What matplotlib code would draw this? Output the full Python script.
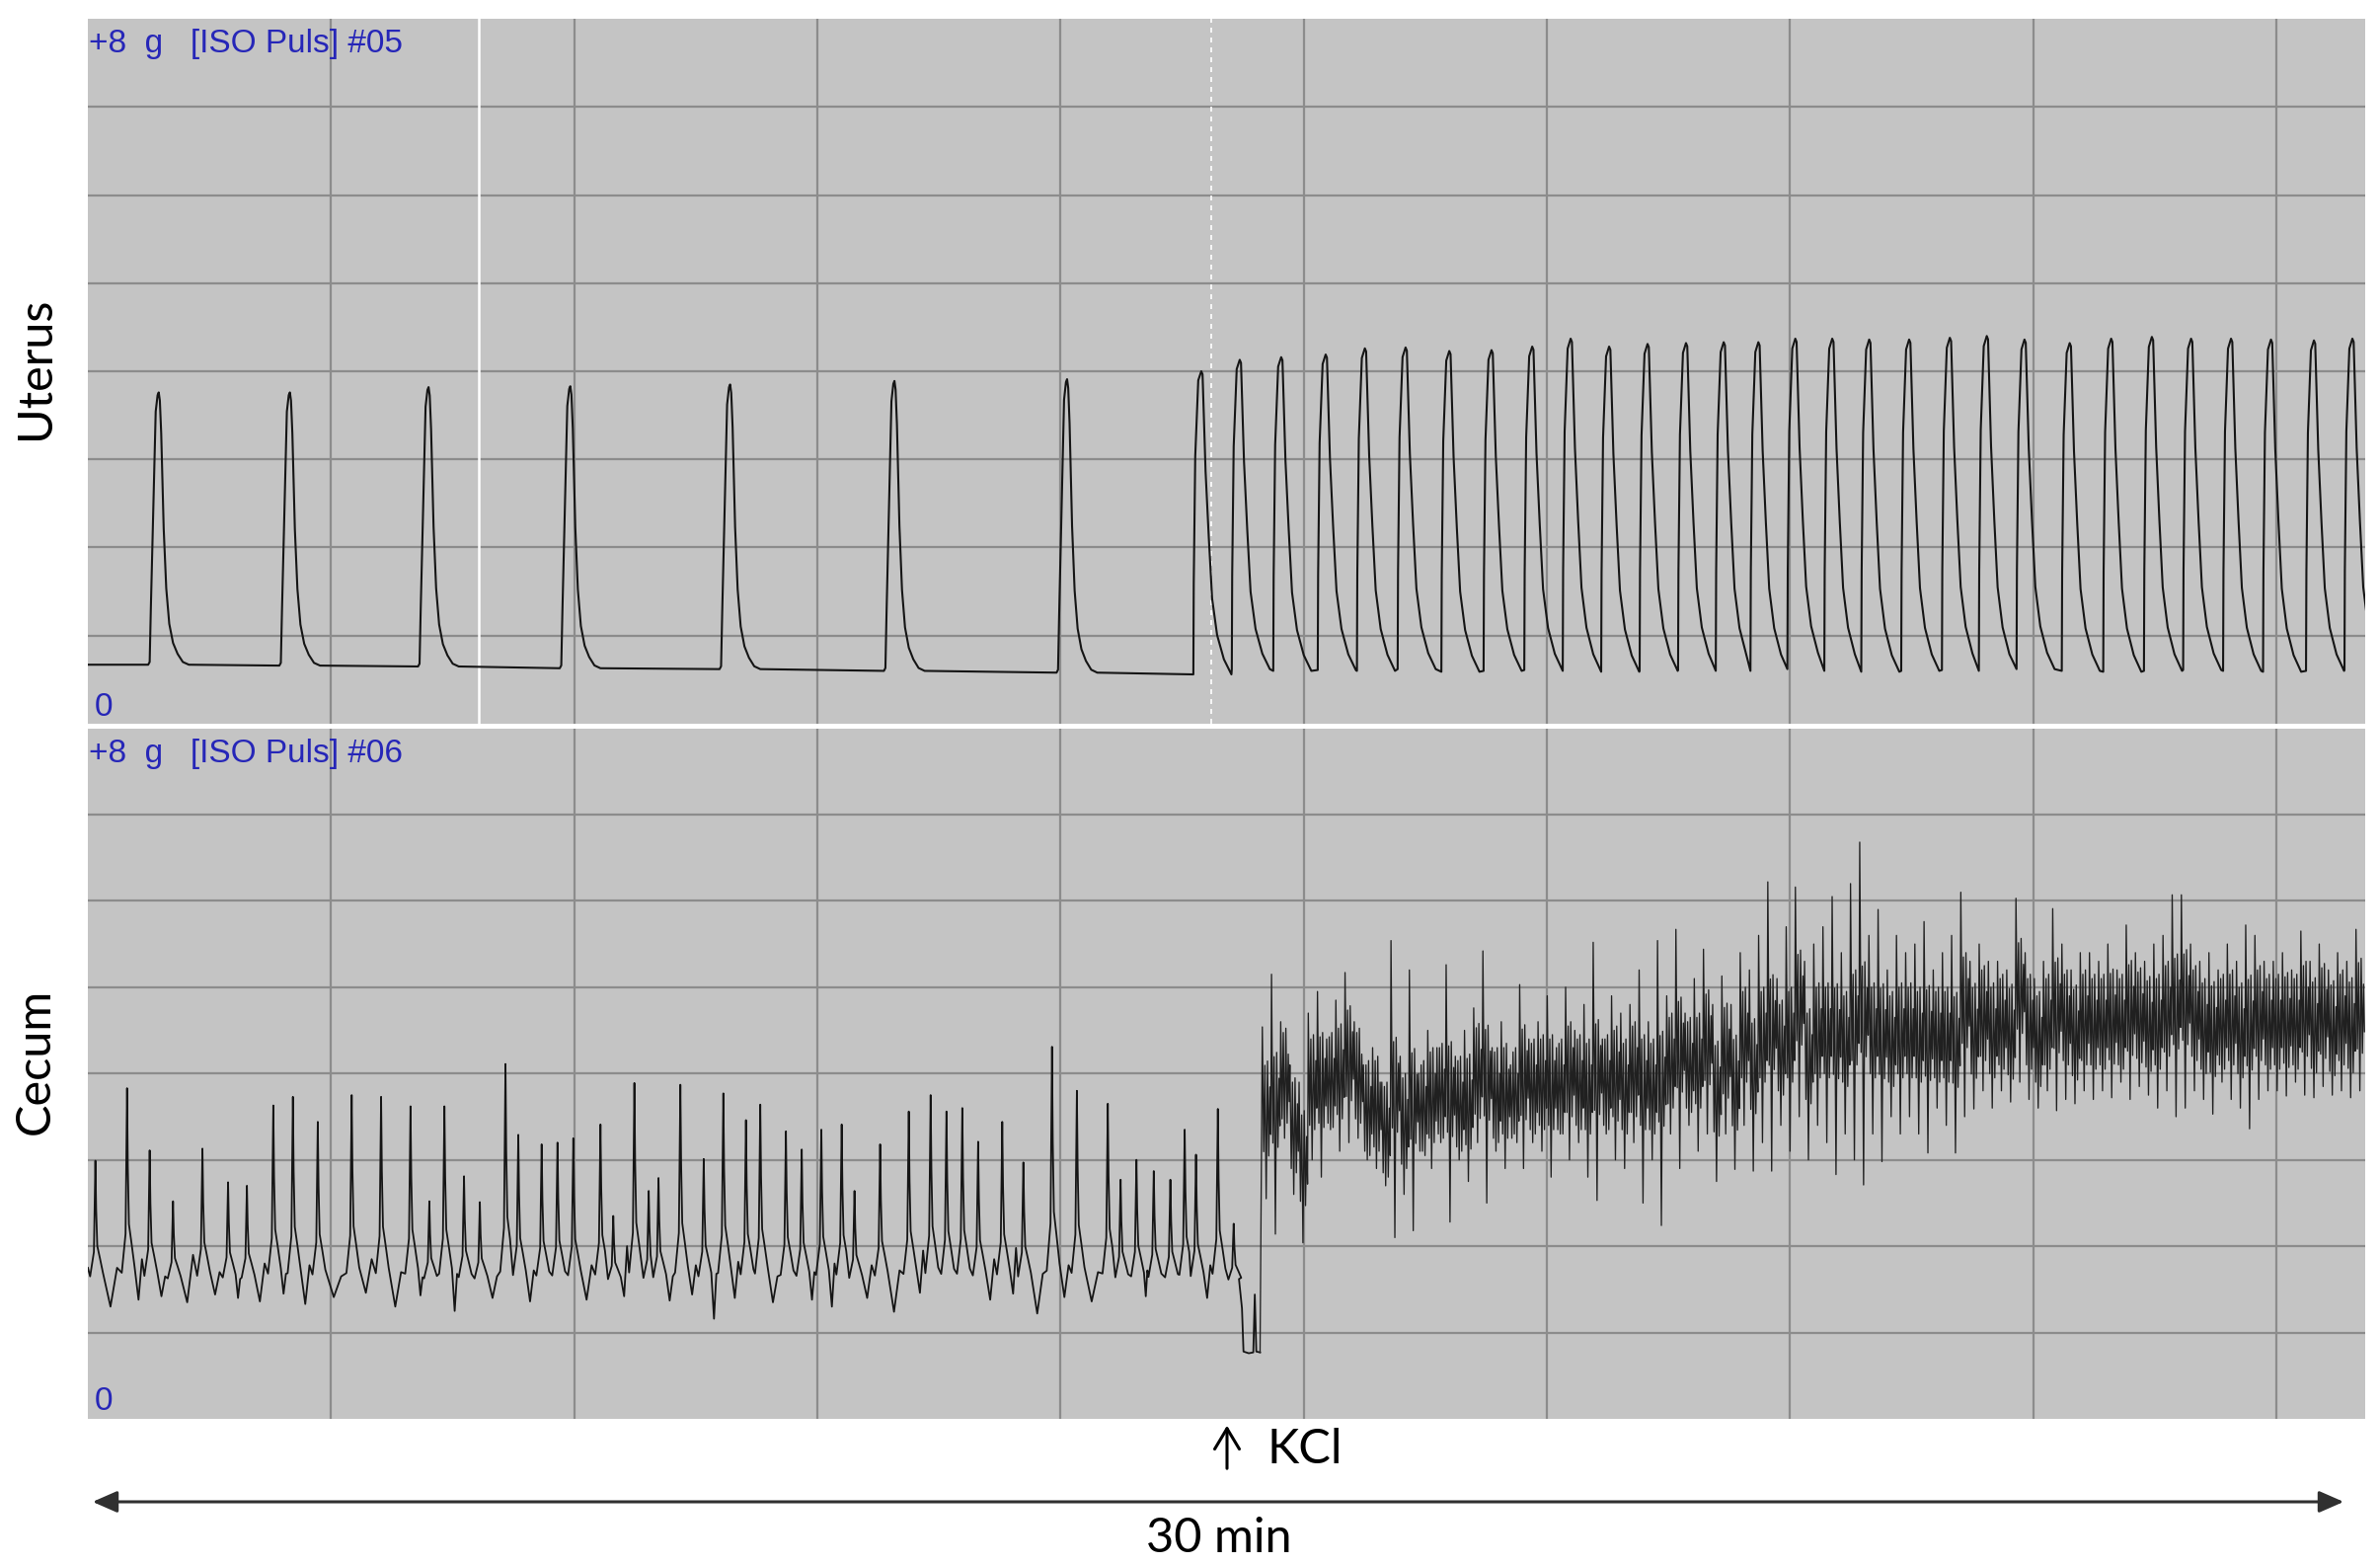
#!/usr/bin/env python3
# Registro isometrico de utero y ciego, respuesta a KCl (30 min).
# Uso: python plot.py  -> out.png

import numpy as np
import matplotlib
matplotlib.use("Agg")
import matplotlib.pyplot as plt
from matplotlib.patches import FancyArrowPatch

ANCHO, ALTO = 2411, 1585
T_MAX       = 30.21     # min visibles en el registro
PASO_REJ    = 3.226     # min entre lineas verticales de la rejilla

# ---------------- Utero (t en min, fuerza en g) ----------------
UT_LENTO_T    = [0.94, 2.68, 4.52, 6.40, 8.52, 10.70, 12.99]
UT_LENTO_PICO = [3.76, 3.76, 3.82, 3.83, 3.85, 3.89, 3.91]
UT_LENTO_BASE = [0.67, 0.66, 0.65, 0.63, 0.62, 0.60, 0.58]
UT_BASE_FINAL = 0.56

UT_RAPIDO_T = [14.77, 15.28, 15.83, 16.42, 16.94, 17.48, 18.06, 18.62, 19.16, 19.67,
               20.18, 20.69, 21.20, 21.70, 22.16, 22.65, 23.14, 23.63, 24.16, 24.70,
               25.19, 25.69, 26.29, 26.84, 27.38, 27.90, 28.43, 28.96, 29.53, 30.04]
UT_RAPIDO_PICO = [4.00, 4.13, 4.16, 4.19, 4.26, 4.27, 4.23, 4.24, 4.28, 4.37,
                  4.28, 4.31, 4.32, 4.33, 4.33, 4.37, 4.37, 4.36, 4.36, 4.38,
                  4.40, 4.36, 4.32, 4.37, 4.39, 4.37, 4.37, 4.36, 4.35, 4.37]
UT_RAPIDO_VALLE = [0.56, 0.62, 0.60, 0.61, 0.60, 0.62, 0.59, 0.60, 0.61, 0.60,
                   0.59, 0.60, 0.61, 0.60, 0.60, 0.62, 0.60, 0.59, 0.60, 0.61,
                   0.60, 0.62, 0.60, 0.59, 0.60, 0.61, 0.60, 0.59, 0.60, 0.61]

# forma de cada contraccion: desfase (min) y fraccion de la amplitud
FORMA_LENTA_DT = [-0.14, -0.12, -0.105, -0.07, -0.04, -0.015, 0.0, 0.015, 0.033,
                  0.066, 0.10, 0.14, 0.19, 0.25, 0.32, 0.40]
FORMA_LENTA_F  = [0.0, 0.01, 0.2, 0.6, 0.93, 0.99, 1.0, 0.97, 0.85,
                  0.5, 0.28, 0.15, 0.08, 0.04, 0.01, 0.0]
FORMA_RAPIDA_DT = [-0.105, -0.10, -0.08, -0.04, 0.0, 0.017, 0.057, 0.10, 0.144, 0.21, 0.30, 0.40]
FORMA_RAPIDA_F  = [0.0, 0.3, 0.72, 0.97, 1.0, 0.99, 0.67, 0.45, 0.25, 0.13, 0.05, 0.0]

# ---------------- Ciego ----------------
CE_INICIO = 1.75
CE_BASE   = 1.58
CE_PRE_T = [0.10, 0.52, 0.82, 1.13, 1.52, 1.86, 2.11, 2.46, 2.72, 3.05,
            3.50, 3.89, 4.28, 4.53, 4.73, 4.99, 5.20, 5.54, 5.71, 6.02,
            6.23, 6.44, 6.80, 6.97, 7.25, 7.44, 7.57, 7.86, 8.17, 8.43,
            8.73, 8.92, 9.26, 9.47, 9.73, 10.00, 10.17, 10.51, 10.89, 11.18,
            11.39, 11.60, 11.81, 12.13, 12.41, 12.79, 13.12, 13.53, 13.70, 13.91,
            14.14, 14.36, 14.55, 14.70, 14.99, 15.20]
CE_PRE_PICO = [2.99, 3.83, 3.11, 2.52, 3.13, 2.74, 2.70, 3.63, 3.73, 3.44,
               3.75, 3.73, 3.62, 2.52, 3.62, 2.81, 2.51, 4.11, 3.29, 3.18,
               3.20, 3.25, 3.41, 2.35, 3.89, 2.64, 2.79, 3.87, 3.01, 3.77,
               3.46, 3.64, 3.33, 3.12, 3.35, 3.41, 2.64, 3.18, 3.56, 3.75,
               3.56, 3.60, 3.21, 3.44, 2.97, 4.31, 3.80, 3.65, 2.77, 3.00,
               2.87, 2.77, 3.35, 3.06, 3.59, 2.26]
CE_PRE_VALLE = [1.30, 1.38, 1.42, 1.35, 1.44, 1.40, 1.36, 1.45, 1.33, 1.41,
                1.46, 1.30, 1.43, 1.38, 1.25, 1.42, 1.40, 1.45, 1.36, 1.44,
                1.48, 1.38, 1.30, 1.42, 1.40, 1.46, 1.37, 1.44, 1.16, 1.40,
                1.45, 1.35, 1.43, 1.38, 1.30, 1.44, 1.40, 1.24, 1.46, 1.36,
                1.27, 1.43, 1.38, 1.45, 1.22, 1.41, 1.36, 1.45, 1.32, 1.42,
                1.38, 1.22, 1.45, 1.40, 1.46, 1.50]
CE_PRE_LOMA = [1.75, 1.85, 1.65, 1.90, 1.70, 1.62, 1.80, 1.68, 1.78, 1.65,
               1.85, 1.70, 1.64, 1.92, 1.68, 1.78, 1.65, 1.82, 1.72, 1.95,
               1.68, 1.78, 1.62, 2.00, 1.70, 1.80, 1.65, 1.78, 1.68, 1.82,
               1.72, 1.65, 1.88, 1.70, 1.80, 1.68, 1.78, 1.72, 1.95, 1.65,
               1.78, 1.70, 1.85, 1.98, 1.68, 1.78, 1.70, 1.82, 1.88, 1.72,
               1.92, 1.80, 1.95, 1.78, 1.82, 1.62]
FORMA_ESPIGA_DT = [-0.07, -0.02, -0.008, 0.0, 0.01, 0.025, 0.06, 0.10]
FORMA_ESPIGA_F  = [0.05, 0.25, 0.7, 1.0, 0.6, 0.3, 0.2, 0.08]

# caida justo antes de la respuesta al KCl
CE_CAIDA_T = [15.27, 15.31, 15.33, 15.40, 15.46, 15.48, 15.50, 15.55]
CE_CAIDA_V = [1.62, 1.28, 0.78, 0.76, 0.77, 1.44, 0.78, 0.77]

# oscilacion tras KCl: un maximo y un minimo por ciclo
CE_POST_T0 = 15.58
CE_POST_ALTO = [4.54, 5.15, 4.60, 4.10, 3.90, 4.70, 4.95, 4.40, 4.85, 5.17,
                4.60, 4.10, 4.30, 3.90, 5.54, 4.20, 5.20, 4.00, 4.50, 4.30,
                5.26, 4.20, 4.50, 4.76, 5.42, 4.30, 4.60, 4.10, 5.03, 4.40,
                4.60, 4.90, 4.30, 5.00, 4.50, 4.80, 5.52, 4.40, 4.90, 4.70,
                4.80, 5.20, 4.60, 5.54, 4.90, 5.67, 4.70, 5.10, 5.44, 4.80,
                5.13, 4.80, 5.40, 5.20, 5.60, 6.22, 5.10, 5.70, 6.16, 5.30,
                5.50, 5.70, 6.05, 5.40, 6.20, 6.68, 5.60, 5.90, 5.20, 5.60,
                5.40, 5.50, 5.76, 5.20, 5.40, 5.60, 6.10, 5.30, 5.50, 5.30,
                5.30, 5.20, 6.03, 5.40, 5.10, 5.30, 5.91, 5.50, 5.20, 5.40,
                5.40, 5.30, 5.50, 5.20, 5.72, 5.40, 5.30, 5.50, 5.60, 6.07,
                6.07, 5.50, 5.30, 5.40, 5.20, 5.50, 5.30, 5.72, 5.60, 5.30,
                5.30, 5.40, 5.20, 5.65, 5.30, 5.50, 5.20, 5.40, 5.30, 5.67]
CE_POST_BAJO = [2.55, 2.14, 3.25, 2.60, 2.04, 3.00, 2.80, 3.35, 3.10, 3.20,
                3.25, 3.00, 2.90, 2.70, 2.10, 2.60, 2.18, 3.10, 2.90, 3.20,
                2.28, 3.00, 2.75, 3.20, 2.50, 3.10, 2.90, 3.30, 2.90, 3.20,
                3.10, 2.80, 3.30, 3.00, 3.20, 2.80, 2.53, 3.30, 3.00, 2.90,
                3.20, 2.50, 3.00, 2.24, 3.30, 2.90, 3.40, 3.10, 3.30, 2.75,
                3.30, 2.89, 3.40, 2.87, 3.20, 2.87, 3.40, 3.10, 3.50, 3.00,
                3.40, 3.20, 2.83, 3.30, 3.00, 2.71, 3.30, 2.98, 3.50, 3.30,
                3.50, 3.30, 3.08, 3.60, 3.40, 3.08, 3.50, 3.59, 3.80, 3.60,
                3.80, 3.67, 3.90, 3.70, 3.60, 3.80, 3.57, 3.70, 3.65, 3.80,
                3.70, 3.80, 3.72, 3.90, 3.70, 3.85, 3.75, 3.60, 3.80, 3.50,
                3.60, 3.80, 3.70, 3.53, 3.90, 3.70, 3.60, 3.36, 3.70, 3.80,
                3.80, 3.74, 3.90, 3.75, 3.72, 3.85, 3.75, 3.80, 3.72, 3.80]
# pasos dentro de cada ciclo (fraccion del ciclo) y desvio respecto al centro del ciclo
CICLO_FR  = [0.15, 0.28, 0.56, 0.70, 0.82, 0.92]
CICLO_DEV = [-0.45, 0.55, 0.60, -0.50, 0.30, -0.25]

# marcas del sistema de registro
LINEA_BLANCA_T  = 5.19
LINEA_PUNTOS_T  = 14.90

FONDO   = "#c4c4c4"
REJILLA = "#8c8c8c"
AZUL    = "#2626b8"
TRAZO   = "#151515"


def fx(px):
    return px / ANCHO


def fy(py):
    return 1 - py / ALTO


def serie_utero():
    t, y = [0.0], [UT_LENTO_BASE[0]]
    for tp, pk, b in zip(UT_LENTO_T, UT_LENTO_PICO, UT_LENTO_BASE):
        for dt, f in zip(FORMA_LENTA_DT, FORMA_LENTA_F):
            t.append(tp + dt)
            y.append(b + f * (pk - b))
    n = len(UT_RAPIDO_T)
    for i in range(n):
        tp, pk, b = UT_RAPIDO_T[i], UT_RAPIDO_PICO[i], UT_RAPIDO_VALLE[i]
        lim = UT_RAPIDO_T[i + 1] + FORMA_RAPIDA_DT[0] if i + 1 < n else T_MAX + 1
        if i == 0:
            t.append(tp + FORMA_RAPIDA_DT[0] - 0.01)
            y.append(UT_BASE_FINAL)
        for dt, f in zip(FORMA_RAPIDA_DT, FORMA_RAPIDA_F):
            if tp + dt < lim - 1e-6:
                t.append(tp + dt)
                y.append(b + f * (pk - b))
    return np.array(t), np.array(y)


def serie_ciego_pre():
    t, y = [0.0], [CE_INICIO]
    n = len(CE_PRE_T)
    for i in range(n):
        tp, pk = CE_PRE_T[i], CE_PRE_PICO[i]
        lim = CE_PRE_T[i + 1] + FORMA_ESPIGA_DT[0] if i + 1 < n else tp + 1
        for dt, f in zip(FORMA_ESPIGA_DT, FORMA_ESPIGA_F):
            if tp + dt < lim:
                t.append(tp + dt)
                y.append(CE_BASE + f * (pk - CE_BASE))
        if i + 1 < n:
            fin = tp + FORMA_ESPIGA_DT[-1]
            if lim - fin > 0.06:
                t += [fin + 0.4 * (lim - fin), fin + 0.75 * (lim - fin)]
                y += [CE_PRE_VALLE[i], CE_PRE_LOMA[i]]
    t += CE_CAIDA_T
    y += CE_CAIDA_V
    return np.array(t), np.array(y)


def serie_ciego_post():
    # arranca en el ultimo punto de la caida para que el trazo sea continuo
    t, y = [CE_CAIDA_T[-1]], [CE_CAIDA_V[-1]]
    paso = (T_MAX - CE_POST_T0) / len(CE_POST_ALTO)
    for j, (hi, lo) in enumerate(zip(CE_POST_ALTO, CE_POST_BAJO)):
        tc = CE_POST_T0 + j * paso
        c = (hi + lo) / 2
        t.append(tc)
        y.append(hi)
        for k, (fr, dv) in enumerate(zip(CICLO_FR, CICLO_DEV)):
            if k == 2:
                t.append(tc + 0.42 * paso)
                y.append(lo)
            t.append(tc + fr * paso)
            y.append(c + dv)
    return np.array(t), np.array(y)


def preparar_eje(ax):
    ax.set_facecolor(FONDO)
    ax.set_xlim(0, T_MAX)
    ax.set_ylim(0, 8)
    ax.set_xticks(np.arange(1, 10) * PASO_REJ)
    ax.set_yticks(np.arange(1, 8))
    ax.grid(True, color=REJILLA, lw=1.6)
    ax.tick_params(length=0, labelbottom=False, labelleft=False)
    for s in ax.spines.values():
        s.set_visible(False)


fig = plt.figure(figsize=(ANCHO / 100, ALTO / 100), dpi=100)
ax_ut = fig.add_axes([fx(89), fy(733), fx(2396) - fx(89), fy(19) - fy(733)])
ax_ce = fig.add_axes([fx(89), fy(1437), fx(2396) - fx(89), fy(737.5) - fy(1437)])

for ax in (ax_ut, ax_ce):
    preparar_eje(ax)

ax_ut.axvline(LINEA_BLANCA_T, color="white", lw=1.8, zorder=2)
ax_ut.axvline(LINEA_PUNTOS_T, color="white", lw=1.2, ls=(0, (3, 3)), zorder=2)

t_ut, y_ut = serie_utero()
ax_ut.plot(t_ut, y_ut, color=TRAZO, lw=1.5, zorder=3)

t_pre, y_pre = serie_ciego_pre()
ax_ce.plot(t_pre, y_pre, color=TRAZO, lw=1.3, zorder=3)
t_post, y_post = serie_ciego_post()
ax_ce.plot(t_post, y_post, color="#202020", lw=0.95, zorder=3)

# etiquetas azules del equipo
for base, num in ((53, "#05"), (771.5, "#06")):
    fig.text(fx(90), fy(base), f"+8  g   [ISO Puls] {num}", color=AZUL,
             family="Liberation Sans", fontsize=24, va="baseline", ha="left")
for base in (725, 1428):
    fig.text(fx(96), fy(base), "0", color=AZUL, family="Liberation Sans",
             fontsize=24, va="baseline", ha="left")

# nombres de los organos
fig.text(fx(36), fy(373), "Uterus", family="Lato", fontsize=35, rotation=90,
         ha="center", va="center")
fig.text(fx(36), fy(1075), "Cecum", family="Lato", fontsize=35, rotation=90,
         ha="center", va="center")

# marca de KCl
fig.add_artist(FancyArrowPatch((fx(1243), fy(1490)), (fx(1243), fy(1441)),
                               transform=fig.transFigure,
                               arrowstyle="->,head_length=0.5,head_width=0.3",
                               mutation_scale=30, lw=2.2, color="black"))
fig.text(fx(1284), fy(1482), "KCl", family="Lato", fontsize=35,
         ha="left", va="baseline")

# escala temporal
fig.add_artist(FancyArrowPatch((fx(91), fy(1521)), (fx(2377), fy(1521)),
                               transform=fig.transFigure,
                               arrowstyle="<|-|>,head_length=0.8,head_width=0.35",
                               mutation_scale=19, lw=2.2, color="#303030"))
fig.text(fx(1235), fy(1572), "30 min", family="Lato", fontsize=35,
         ha="center", va="baseline")

fig.savefig("out.png", dpi=100, facecolor="white")
print("out.png guardado")
